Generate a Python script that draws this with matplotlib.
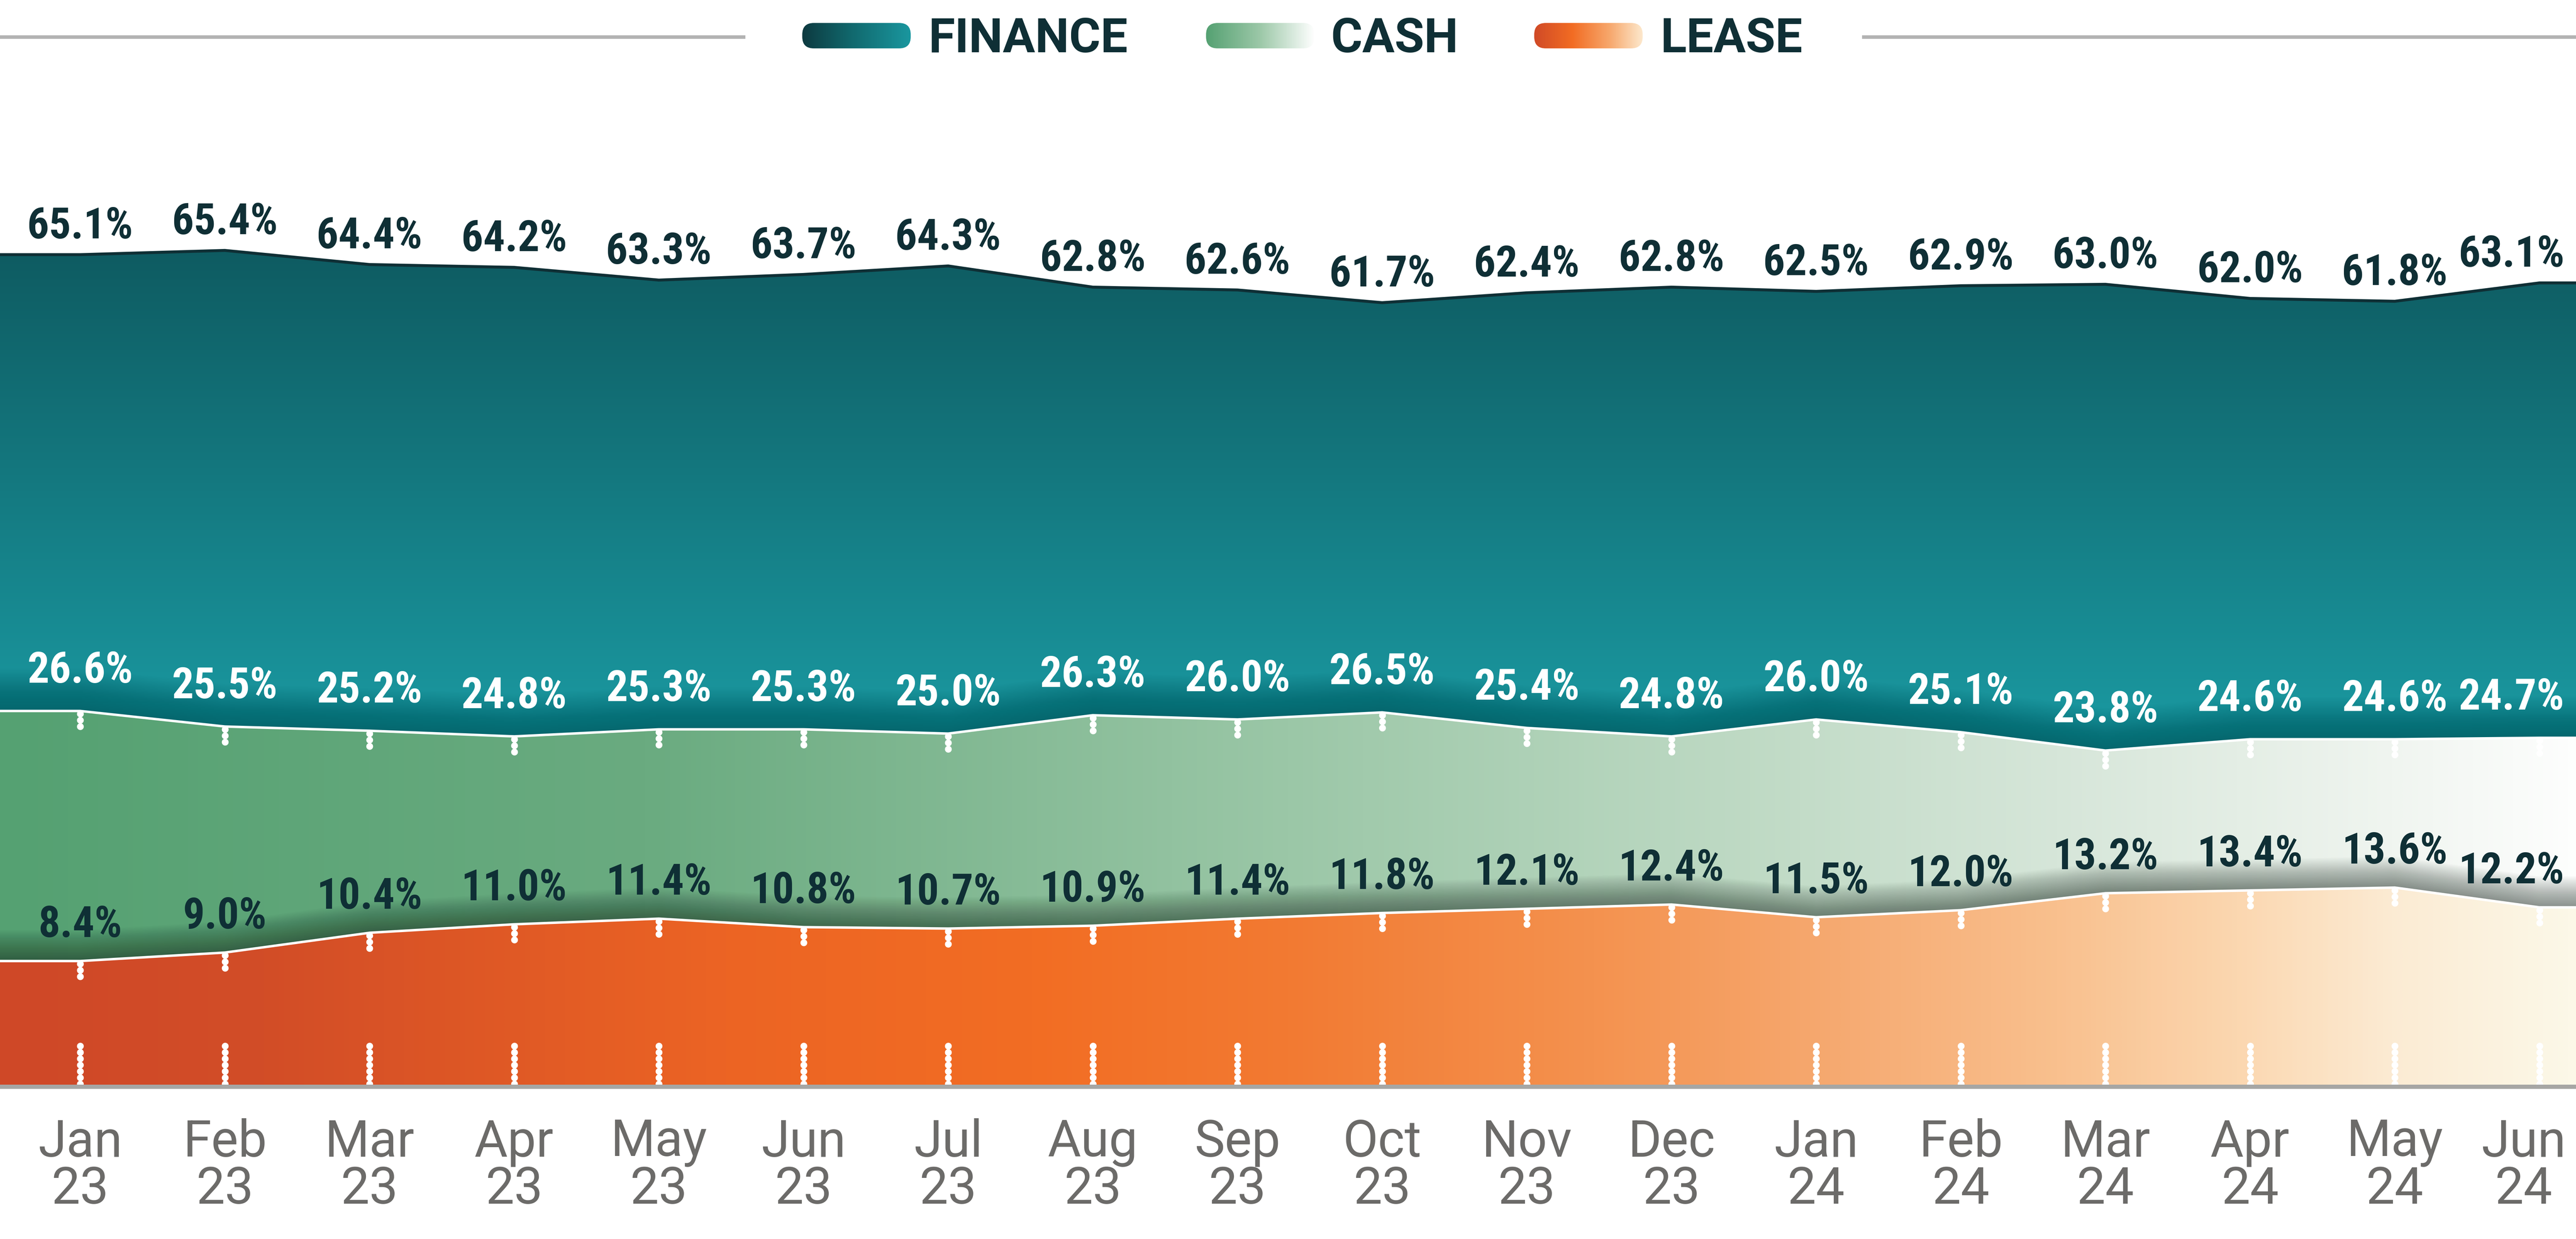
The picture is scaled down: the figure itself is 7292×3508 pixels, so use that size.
import numpy as np
import matplotlib
matplotlib.use("Agg")
import matplotlib.pyplot as plt
import matplotlib.transforms as mtrans
from matplotlib.colors import LinearSegmentedColormap
from matplotlib.patches import FancyBboxPatch
from matplotlib import font_manager as fm

# ---------------- data ----------------
months = ["Jan\n23", "Feb\n23", "Mar\n23", "Apr\n23", "May\n23", "Jun\n23",
          "Jul\n23", "Aug\n23", "Sep\n23", "Oct\n23", "Nov\n23", "Dec\n23",
          "Jan\n24", "Feb\n24", "Mar\n24", "Apr\n24", "May\n24", "Jun\n24"]
finance = [65.1, 65.4, 64.4, 64.2, 63.3, 63.7, 64.3, 62.8, 62.6, 61.7,
           62.4, 62.8, 62.5, 62.9, 63.0, 62.0, 61.8, 63.1]
cash = [26.6, 25.5, 25.2, 24.8, 25.3, 25.3, 25.0, 26.3, 26.0, 26.5,
        25.4, 24.8, 26.0, 25.1, 23.8, 24.6, 24.6, 24.7]
lease = [8.4, 9.0, 10.4, 11.0, 11.4, 10.8, 10.7, 10.9, 11.4, 11.8,
         12.1, 12.4, 11.5, 12.0, 13.2, 13.4, 13.6, 12.2]
legend_names = ["FINANCE", "CASH", "LEASE"]

# ---------------- fonts ----------------
def pick(fams):
    for f in fams:
        try:
            fm.findfont(fm.FontProperties(family=f), fallback_to_default=False)
            return f
        except Exception:
            pass
    return "DejaVu Sans"

REG = pick(["Roboto", "Liberation Sans"])

# look for a condensed / narrow bold face for the value labels
lbl_fp = None
for pref in ["Liberation Sans Narrow", "Roboto Condensed", "Open Sans Condensed",
             "Noto Sans Condensed", "Arial Narrow"]:
    for f in fm.fontManager.ttflist:
        if f.name == pref and f.weight in (700, "bold", 600, "semibold", "demibold"):
            lbl_fp = fm.FontProperties(fname=f.fname)
            break
    if lbl_fp is not None:
        break
if lbl_fp is not None:
    LBL_SIZE = 88
else:
    lbl_fp = fm.FontProperties(family=REG, weight="bold")
    LBL_SIZE = 79

DARK = "#0f2f35"
GRAY_TXT = "#6c6b69"

# ---------------- figure / layout ----------------
W, H, DPI = 7292, 3508, 100
fig = plt.figure(figsize=(W / DPI, H / DPI), dpi=DPI)
fig.patch.set_facecolor("white")
BASE_PX = 3077
PX_PER_UNIT = 40.0
ax = fig.add_axes([0, (H - BASE_PX) / H, 1, BASE_PX / H])
ax.set_autoscale_on(False)

n = len(months)
x = np.arange(n)
x_first_px, x_step_px = 227.0, 409.5
xmin = -x_first_px / x_step_px
xmax = (W - x_first_px) / x_step_px
ymax = BASE_PX / PX_PER_UNIT
ax.set_xlim(xmin, xmax)
ax.set_ylim(0, ymax)

# display shifts (designer's vertical placement of each band)
FIN_SHIFT, CASH_SHIFT, LEASE_SHIFT = -6.2, 0.0, 0.5
fin_d = np.array(finance) + FIN_SHIFT
cash_d = np.array(cash) + CASH_SHIFT
lease_d = np.array(lease) + LEASE_SHIFT

xe = np.r_[xmin, x, xmax]
def ext(v):
    return np.r_[v[0], v, v[-1]]

fin_e, cash_e, lease_e = ext(fin_d), ext(cash_d), ext(lease_d)


def gradient_fill(ye, stops, direction, extent, z):
    poly = ax.fill_between(xe, 0, ye, color="none", lw=0)
    cmap = LinearSegmentedColormap.from_list("g", stops, N=512)
    if direction == "h":
        arr = np.linspace(0, 1, 512)[None, :]
    else:
        arr = np.linspace(0, 1, 512)[:, None]
    im = ax.imshow(arr, cmap=cmap, extent=extent, aspect="auto",
                   origin="lower", zorder=z, interpolation="bilinear")
    im.set_clip_path(poly.get_paths()[0], transform=ax.transData)


def shadow(ye, depth, color, alpha_total, z, nl=30):
    a = 1 - (1 - alpha_total) ** (1.0 / nl)
    for i in range(nl):
        d = depth * (i + 1) / nl
        ax.fill_between(xe, ye, ye + d, color=color, alpha=a, lw=0, zorder=z)


# finance (vertical gradient)
gradient_fill(fin_e, [(0.0, "#1b9aa1"), (0.15, "#1a979f"), (1.0, "#0e5a60")],
              "v", [xmin, xmax, 20, 60], 1)
shadow(cash_e, 3.0, "#05343a", 0.40, 2)

# cash (horizontal gradient)
gradient_fill(cash_e, [(0.0, "#55a172"), (0.25, "#6aab80"), (0.5, "#9bc7a7"),
                       (0.7, "#c3dcc8"), (0.8, "#d6e6d9"), (0.87, "#e4eee5"),
                       (0.93, "#f0f5f0"), (1.0, "#fdfefd")],
              "h", [xmin, xmax, 0, 40], 3)
shadow(lease_e, 2.2, "#15241c", 0.42, 4)

# lease (horizontal gradient)
gradient_fill(lease_e, [(0.0, "#cf4827"), (0.1, "#d24d27"), (0.28, "#ec6424"),
                        (0.4, "#f26d23"), (0.5, "#f27a32"), (0.62, "#f4924f"),
                        (0.72, "#f6ab73"), (0.8, "#f9c08e"), (0.87, "#fbd7b0"),
                        (0.93, "#fbebd3"), (1.0, "#fcf8e8")],
              "h", [xmin, xmax, 0, 30], 5)

# boundary lines
ax.plot(xe, fin_e, color=DARK, lw=6.0, zorder=6, solid_joinstyle="miter")
ax.plot(xe, cash_e, color="white", lw=5.0, zorder=6, solid_joinstyle="miter")
ax.plot(xe, lease_e, color="white", lw=5.0, zorder=6, solid_joinstyle="miter")

# beaded white ticks
bead = dict(color="white", lw=14, linestyle=(0, (0.001, 0.92)),
            dash_capstyle="round", zorder=7)
for i in range(n):
    ax.plot([i, i], [cash_d[i] - 0.2, cash_d[i] - 1.35], **bead)
    ax.plot([i, i], [lease_d[i] - 0.2, lease_d[i] - 1.3], **bead)
    ax.plot([i, i], [0.2, 3.0], **bead)

# value labels
def label(i, y, v, color):
    if i == n - 1:
        xx, ha = xmax - 0.08, "right"
    else:
        xx, ha = i, "center"
    ax.text(xx, y, f"{v:.1f}%", ha=ha, va="baseline", color=color,
            fontproperties=lbl_fp, fontsize=LBL_SIZE, zorder=8)

for i in range(n):
    label(i, fin_d[i] + 1.15, finance[i], DARK)
    label(i, cash_d[i] + 2.0, cash[i], "white")
    label(i, lease_d[i] + 1.7, lease[i], DARK)

# axis styling
for s in ["top", "left", "right"]:
    ax.spines[s].set_visible(False)
ax.spines["bottom"].set_color("#a6a6a4")
ax.spines["bottom"].set_linewidth(8.6)
ax.spines["bottom"].set_zorder(9)
ax.set_yticks([])
ax.set_xticks([])
ax.patch.set_visible(False)

# month labels (category axis)
PAD_PX = 89
for i, m in enumerate(months):
    dx = -45 if i == n - 1 else 0
    tr = mtrans.blended_transform_factory(ax.transData, ax.transAxes) + \
        mtrans.ScaledTranslation(dx / DPI, -PAD_PX / DPI, fig.dpi_scale_trans)
    ax.text(i, 0, m, transform=tr, ha="center", va="top", color=GRAY_TXT,
            fontsize=104, family=REG, linespacing=0.95, clip_on=False)

# ---------------- legend (overlay in pixel space) ----------------
lax = fig.add_axes([0, 0, 1, 1], zorder=10)
lax.set_xlim(0, W)
lax.set_ylim(H, 0)
lax.axis("off")
lax.set_autoscale_on(False)

lax.plot([0, 2110], [105, 105], color="#b3b3b3", lw=7.2, solid_capstyle="butt")
lax.plot([5271, W], [105, 105], color="#b3b3b3", lw=7.2, solid_capstyle="butt")

pill_stops = [
    [(0, "#0d3a40"), (0.45, "#11686d"), (1, "#1a979f")],
    [(0, "#55a172"), (0.5, "#9cc8a8"), (1, "#ffffff")],
    [(0, "#d04a27"), (0.35, "#f26c23"), (0.7, "#f7a86d"), (1, "#fde8cc")],
]
pill_x = [2271, 3414, 4343]
text_x = [2628, 3767, 4700]
pw, ph, py = 307, 72, 65
for k in range(3):
    patch = FancyBboxPatch((pill_x[k], py), pw, ph,
                           boxstyle=f"round,pad=0,rounding_size={ph/2.2}",
                           fc="none", ec="none")
    lax.add_patch(patch)
    cmap = LinearSegmentedColormap.from_list("p", pill_stops[k], N=256)
    im = lax.imshow(np.linspace(0, 1, 256)[None, :], cmap=cmap, aspect="auto",
                    extent=[pill_x[k], pill_x[k] + pw, py + ph, py],
                    interpolation="bilinear")
    im.set_clip_path(patch)
    lax.text(text_x[k], 148, legend_names[k], ha="left", va="baseline",
             color=DARK, fontsize=98, fontweight="bold", family=REG)

fig.savefig("out.png", dpi=DPI, facecolor="white")
